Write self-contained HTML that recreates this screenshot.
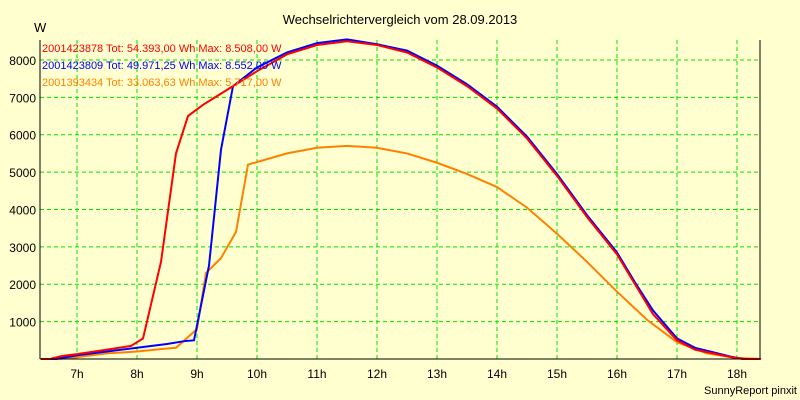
<!DOCTYPE html>
<html><head><meta charset="utf-8"><style>
body{margin:0;background:#ffffd0;}
svg{display:block;font-family:"Liberation Sans",sans-serif;}
</style></head><body>
<svg width="800" height="400">
<rect x="0" y="0" width="800" height="400" fill="#ffffd0"/>
<text x="400" y="24" text-anchor="middle" font-size="13">Wechselrichtervergleich vom 28.09.2013</text>
<text x="34" y="32" font-size="13">W</text>
<g id="grid"></g><g id="ticks"></g><g id="series"></g>
<line x1="40" y1="40" x2="40" y2="359" stroke="#000"/>
<line x1="40" y1="359" x2="760" y2="359" stroke="#000"/>
<line x1="760" y1="40" x2="760" y2="359" stroke="#000"/>
<text x="42" y="52" font-size="11" fill="#f00">2001423878 Tot: 54.393,00 Wh Max: 8.508,00 W</text>
<text x="42" y="69" font-size="11" fill="#00f">2001423809 Tot: 49.971,25 Wh Max: 8.552,00 W</text>
<text x="42" y="86" font-size="11" fill="#ff8000">2001393434 Tot: 33.063,63 Wh Max: 5.717,00 W</text>
<text x="797" y="394" text-anchor="end" font-size="11">SunnyReport pinxit</text>
</svg>
<script>
const hourTicks=[7,8,9,10,11,12,13,14,15,16,17,18];
const valueTicks=[1000,2000,3000,4000,5000,6000,7000,8000];
const redHours=[6.4,6.55,6.75,7,7.5,7.9,8.1,8.4,8.65,8.85,9.1,9.3,9.6,10,10.5,11,11.5,12,12.5,13,13.5,14,14.5,15,15.5,16,16.3,16.6,17,17.3,17.6,17.9,18.1,18.4];
const redWatts=[0,0,80,130,250,350,550,2600,5500,6500,6800,7000,7300,7700,8150,8400,8500,8400,8200,7800,7300,6700,5900,4900,3800,2800,2000,1200,500,250,150,50,0,0];
const blueHours=[6.4,6.65,7,7.5,8,8.5,8.8,8.95,9.2,9.4,9.6,10,10.5,11,11.5,12,12.5,13,13.5,14,14.5,15,15.5,16,16.3,16.6,17,17.3,17.6,17.9,18.1,18.4];
const blueWatts=[0,0,100,200,300,400,480,500,2500,5600,7300,7800,8200,8450,8550,8420,8250,7850,7350,6750,5950,4950,3850,2850,2050,1300,550,300,180,60,0,0];
const orangeHours=[6.4,6.7,7,7.5,8,8.5,8.65,9,9.15,9.4,9.65,9.85,10.5,11,11.5,12,12.5,13,13.5,14,14.5,15,15.5,16,16.5,17,17.5,18,18.4];
const orangeWatts=[0,0,50,150,200,280,300,800,2300,2700,3400,5200,5500,5650,5700,5650,5500,5250,4950,4600,4050,3350,2600,1800,1050,450,150,30,0];
const X=h=>77+(h-7)*60;
const Y=v=>359-v*0.03738;
const NS="http://www.w3.org/2000/svg";
const grid=document.getElementById('grid'),ticks=document.getElementById('ticks'),series=document.getElementById('series');
function mk(tag,attrs,parent){const e=document.createElementNS(NS,tag);for(const k in attrs)e.setAttribute(k,attrs[k]);parent.appendChild(e);return e;}
hourTicks.forEach(h=>{
  const l=mk('line',{x1:X(h),y1:40,x2:X(h),y2:359,stroke:'#00e000','stroke-dasharray':'4,3'},grid);
  
  
  const t=mk('text',{x:X(h),y:378,'text-anchor':'middle','font-size':12},ticks);
  t.textContent=h+'h';
  
  
});
valueTicks.forEach(v=>{
  const l=mk('line',{x1:40,y1:Y(v),x2:760,y2:Y(v),stroke:'#00e000','stroke-dasharray':'4,3'},grid);
  
  
  const t=mk('text',{x:36,y:Y(v)+5,'text-anchor':'end','font-size':12},ticks);
  t.textContent=v;
  
  
});
function line(hs,ws,color,name){
  const p=mk('polyline',{points:hs.map((h,i)=>X(h)+','+Y(ws[i])).join(' '),fill:'none',stroke:color,'stroke-width':2},series);
  
  
}
line(orangeHours,orangeWatts,'#ff8000','series-2001393434');
line(blueHours,blueWatts,'#0000ff','series-2001423809');
line(redHours,redWatts,'#ff0000','series-2001423878');
</script>
</body></html>
